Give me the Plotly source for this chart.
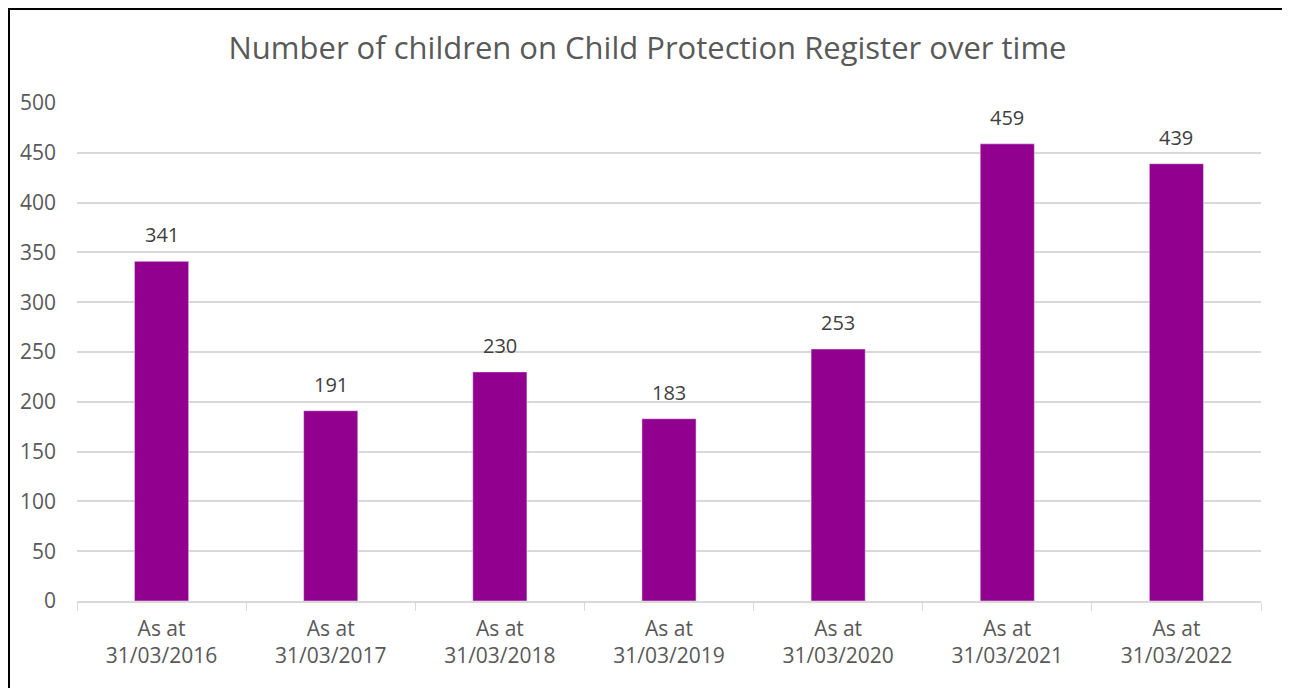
import plotly.graph_objects as go

categories = [
    "As at<br>31/03/2016",
    "As at<br>31/03/2017",
    "As at<br>31/03/2018",
    "As at<br>31/03/2019",
    "As at<br>31/03/2020",
    "As at<br>31/03/2021",
    "As at<br>31/03/2022",
]
children = [341, 191, 230, 183, 253, 459, 439]
y_ticks = [0, 50, 100, 150, 200, 250, 300, 350, 400, 450, 500]

# page has an 8px body margin, so figure coords = screen coords - 8
W, H = 1290, 688
ml, mr, mt, mb = 69, 37, 95, 95
pw, ph = W - ml - mr, H - mt - mb


def px_x(p):
    return (p - ml) / pw


def px_y(p):
    return (H - mb - p) / ph


fig = go.Figure()
fig.add_trace(
    go.Bar(
        x=categories,
        y=children,
        marker_color="#92008F",
        hoverinfo="x+y",
    )
)

# data labels sit a little higher above the bars than plotly's "outside" text
for cat, val in zip(categories, children):
    fig.add_annotation(
        x=cat,
        y=val,
        text=str(val),
        showarrow=False,
        yanchor="bottom",
        yshift=11,
        font=dict(size=20, color="#404040"),
    )

fig.update_layout(
    width=W,
    height=H,
    margin=dict(l=ml, r=mr, t=mt, b=mb),
    paper_bgcolor="white",
    plot_bgcolor="white",
    font=dict(family="Open Sans, sans-serif", color="#595959"),
    title=dict(
        text="Number of children on Child Protection Register over time",
        x=639.5 / W,
        xanchor="center",
        y=1 - 40 / H,
        yanchor="middle",
        font=dict(size=31, color="#595959"),
    ),
    bargap=0.68,
    showlegend=False,
)

fig.update_xaxes(
    showline=True,
    linecolor="#d9d9d9",
    linewidth=1.5,
    ticks="outside",
    tickson="boundaries",
    ticklen=8,
    tickcolor="#d9d9d9",
    tickfont=dict(size=21, color="#595959"),
    ticklabelstandoff=8,
    showgrid=False,
)
fig.update_yaxes(
    range=[0, 500],
    tickvals=y_ticks,
    showgrid=True,
    gridcolor="#d9d9d9",
    gridwidth=1.5,
    zeroline=False,
    showline=False,
    tickfont=dict(size=21, color="#595959"),
    ticklabelstandoff=20,
)

# chart border: black left/top, thin grey right
fig.add_shape(type="line", xref="paper", yref="paper",
              x0=px_x(1), x1=px_x(1), y0=px_y(0), y1=px_y(H),
              line=dict(color="black", width=2))
fig.add_shape(type="line", xref="paper", yref="paper",
              x0=px_x(0), x1=px_x(1281), y0=px_y(1), y1=px_y(1),
              line=dict(color="black", width=2))
fig.add_shape(type="line", xref="paper", yref="paper",
              x0=px_x(1281), x1=px_x(1281), y0=px_y(0), y1=px_y(H),
              line=dict(color="#a6a6a6", width=1))

fig.write_html("out.html")
